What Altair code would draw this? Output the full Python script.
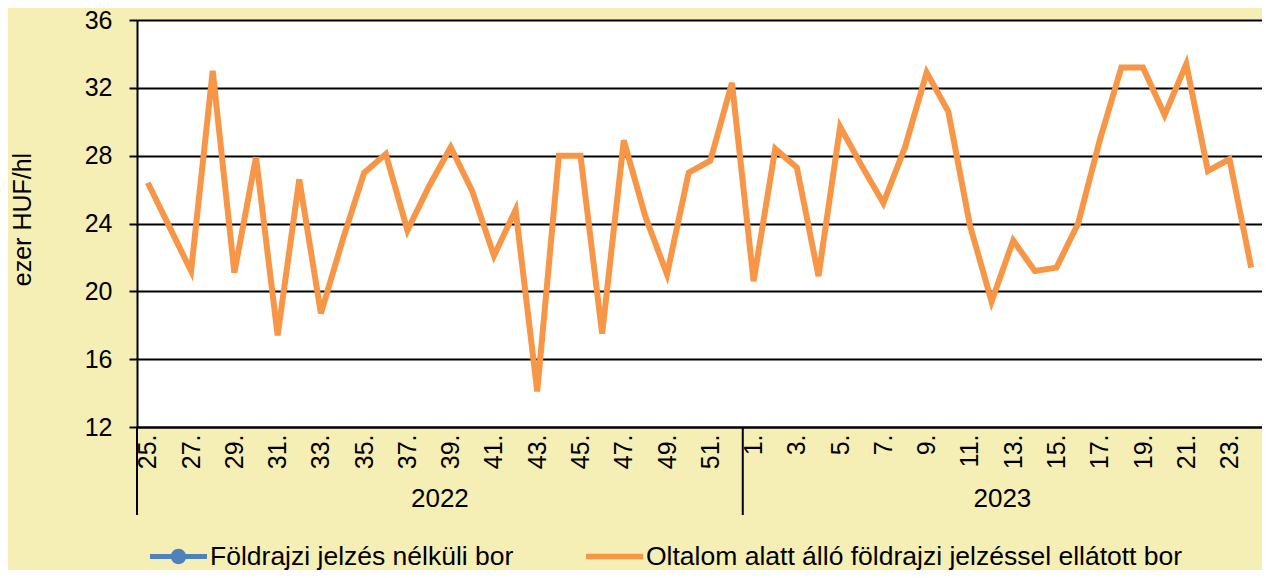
import json
import altair as alt
import pandas as pd

# ---- data ----
years = ["2022", "2023"]
weeks_2022 = list(range(25, 53))
weeks_2023 = list(range(1, 25))
values_2022 = [26.4, 23.8, 21.2, 33.0, 21.1, 27.9, 17.4, 26.6, 18.7, 23.0,
               27.0, 28.1, 23.6, 26.2, 28.5, 25.9, 22.1, 24.8, 14.1, 28.0,
               28.0, 17.5, 28.9, 24.4, 21.0, 27.0, 27.7, 32.3]
values_2023 = [20.6, 28.4, 27.3, 20.9, 29.7, 27.4, 25.2, 28.5, 32.9, 30.6,
               23.9, 19.4, 23.0, 21.2, 21.4, 24.0, 28.9, 33.2, 33.2, 30.4,
               33.4, 27.1, 27.8, 21.4]
series_names = ["Földrajzi jelzés nélküli bor",
                "Oltalom alatt álló földrajzi jelzéssel ellátott bor"]
series_colors = ["#4F81BD", "#F79646"]
y_ticks = [12, 16, 20, 24, 28, 32, 36]

FONT = "Liberation Sans"
BG = "#F5EFB5"

rows = []
year_rows = []
idx = 0
for year, weeks, vals in [(years[0], weeks_2022, values_2022),
                          (years[1], weeks_2023, values_2023)]:
    start = idx
    for w, v in zip(weeks, vals):
        rows.append({"idx": idx, "week": f"{w}.", "year": year,
                     "series": series_names[1], "value": v})
        idx += 1
    year_rows.append({"year": year, "start": start - 0.5,
                      "mid": (start + idx - 1) / 2})
df = pd.DataFrame(rows)
ydf = pd.DataFrame(year_rows)
n = len(df)
week_labels = df["week"].tolist()
label_expr = f"{json.dumps(week_labels)}[datum.value]"
even_idx = [i for i in range(n) if i % 2 == 0]

x_scale = alt.Scale(domain=[-0.5, n - 0.5], nice=False, zero=False)
y_scale = alt.Scale(domain=[y_ticks[0], y_ticks[-1]], nice=False, zero=False)
color_scale = alt.Scale(domain=series_names, range=series_colors)

blue_sym = ("M-1,-0.09L1,-0.09L1,0.09L-1,0.09Z "
            "M0.27,0A0.27,0.27 0 1,1 -0.27,0A0.27,0.27 0 1,1 0.27,0Z")
orange_sym = "M-1,-0.1L1,-0.1L1,0.1L-1,0.1Z"
shape_scale = alt.Scale(domain=series_names, range=[blue_sym, orange_sym])

x_axis = alt.Axis(values=even_idx, labelExpr=label_expr, labelAngle=270,
                  labelFontSize=25, labelFont=FONT, labelColor="black",
                  labelPadding=7, ticks=False, domainColor="black",
                  domainWidth=2, grid=False, title=None,
                  labelOverlap=False, labelFlush=False)
y_axis = alt.Axis(values=y_ticks, title="ezer HUF/hl", titleFontSize=25,
                  titleFont=FONT, titleFontWeight="normal", titleColor="black",
                  titleAngle=270, titleX=-115, titleY=199, titleAlign="center",
                  titleBaseline="middle",
                  labelFontSize=25, labelFont=FONT, labelColor="black",
                  labelPadding=17, tickSize=8, tickWidth=2, tickColor="black",
                  domainColor="black", domainWidth=2, gridColor="black",
                  gridWidth=2, gridOpacity=1)

legend = alt.Legend(orient="none", legendX=13, legendY=508,
                    direction="horizontal", title=None, symbolSize=3249,
                    symbolStrokeWidth=0, symbolOpacity=1, labelFontSize=26.5,
                    labelFont=FONT, labelColor="black", labelOffset=3,
                    labelLimit=2000, columnPadding=72, padding=0)

base = alt.Chart(df)

line = base.mark_line(strokeWidth=6).encode(
    x=alt.X("idx:Q", scale=x_scale, axis=x_axis),
    y=alt.Y("value:Q", scale=y_scale, axis=y_axis),
    color=alt.Color("series:N", scale=color_scale, legend=legend),
)

legend_layer = base.transform_filter(
    alt.datum.series == series_names[0]
).mark_point(filled=True, opacity=1, size=3249).encode(
    x=alt.X("idx:Q", scale=x_scale),
    y=alt.Y("value:Q", scale=y_scale),
    color=alt.Color("series:N", scale=color_scale, legend=legend),
    shape=alt.Shape("series:N", scale=shape_scale, legend=legend),
)

dividers = alt.Chart(ydf).mark_rule(color="black", strokeWidth=2).encode(
    x=alt.X("start:Q", scale=x_scale),
    y=alt.value(407),
    y2=alt.value(495),
)

year_text = alt.Chart(ydf).mark_text(fontSize=26, font=FONT, color="black",
                                     align="center", baseline="middle").encode(
    x=alt.X("mid:Q", scale=x_scale),
    y=alt.value(479),
    text="year:N",
)

chart = alt.layer(line, legend_layer, dividers, year_text).properties(
    width=1125,
    height=407,
    background=BG,
    padding={"left": 129, "top": 12, "right": 0, "bottom": 143},
    autosize=alt.AutoSizeParams(type="none"),
).configure_view(fill="white", stroke="transparent")

chart.save("out.html", embed_options={"renderer": "svg", "actions": False})
